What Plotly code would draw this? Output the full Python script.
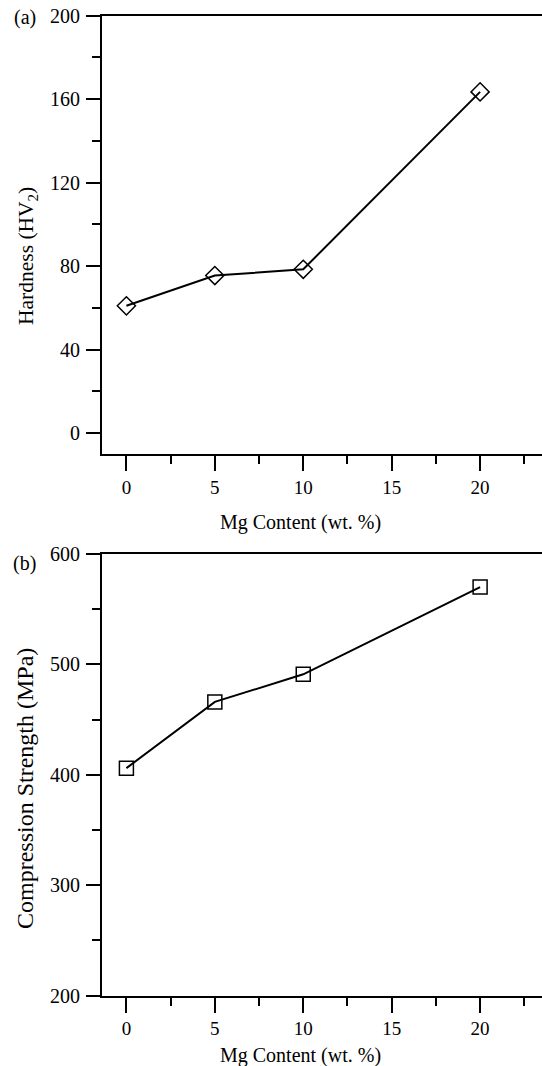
import plotly.graph_objects as go
from plotly.subplots import make_subplots

mg_content = [0, 5, 10, 20]
hardness = [61, 75.5, 78.5, 163.5]
compression = [406, 466, 491, 570]

x_ticks = [0, 5, 10, 15, 20]
hard_ticks = [0, 40, 80, 120, 160, 200]
comp_ticks = [200, 300, 400, 500, 600]

W, H = 542, 1066
FONT = "Liberation Serif"

def py(pix):
    return 1 - pix / H

def px(pix):
    return pix / W

fig = make_subplots(rows=2, cols=1)

fig.add_trace(go.Scatter(
    x=mg_content, y=hardness, mode="lines+markers",
    line=dict(color="black", width=2),
    marker=dict(symbol="diamond-open", size=14, color="black", line=dict(width=1.5, color="black")),
    showlegend=False), row=1, col=1)

fig.add_trace(go.Scatter(
    x=mg_content, y=compression, mode="lines+markers",
    line=dict(color="black", width=2),
    marker=dict(symbol="square-open", size=14, color="black", line=dict(width=1.5, color="black")),
    showlegend=False), row=2, col=1)

x_left, x_right = -1.38, 23.5
xdom = [px(102), 1.0]

common_x = dict(
    range=[x_left, x_right], tickvals=x_ticks, ticktext=[str(v) for v in x_ticks],
    showline=True, linecolor="black", linewidth=2, mirror=True,
    ticks="outside", ticklen=15, tickwidth=2, tickcolor="black",
    minor=dict(dtick=2.5, tick0=0, ticks="outside", ticklen=8, tickwidth=2, tickcolor="black"),
    showgrid=False, zeroline=False, domain=xdom, automargin=False,
    tickfont=dict(family=FONT, size=19, color="black"), ticklabelstandoff=0,
)
fig.update_xaxes(**common_x, row=1, col=1)
fig.update_xaxes(**common_x, row=2, col=1)

common_y = dict(
    showline=True, linecolor="black", linewidth=2,
    ticks="outside", ticklen=14, tickwidth=2, tickcolor="black",
    showgrid=False, zeroline=False, automargin=False,
    tickfont=dict(family=FONT, size=20, color="black"), ticklabelstandoff=2,
)
fig.update_yaxes(**common_y, range=[-10, 200], tickvals=hard_ticks,
                 ticktext=[str(v) for v in hard_ticks],
                 minor=dict(dtick=20, tick0=0, ticks="outside", ticklen=8, tickwidth=2, tickcolor="black"),
                 domain=[py(454), py(15.7)], row=1, col=1)
fig.update_yaxes(**common_y, range=[200, 600], tickvals=comp_ticks,
                 ticktext=[str(v) for v in comp_ticks],
                 minor=dict(dtick=50, tick0=0, ticks="outside", ticklen=8, tickwidth=2, tickcolor="black"),
                 domain=[py(995.5), py(554)], row=2, col=1)

ann = [
    dict(text="(a)", x=px(24.5), y=py(17), size=20, angle=0),
    dict(text="(b)", x=px(24.5), y=py(563), size=20, angle=0),
    dict(text="Hardness (HV<sub>2</sub>)", x=px(27), y=py(256), size=21.5, angle=-90),
    dict(text="Compression Strength (MPa)", x=px(25), y=py(789), size=24, angle=-90),
    dict(text="Mg Content (wt. %)", x=px(300), y=py(522), size=20, angle=0),
    dict(text="Mg Content (wt. %)", x=px(300), y=py(1055), size=20, angle=0),
]
for a in ann:
    fig.add_annotation(text=a["text"], x=a["x"], y=a["y"], xref="paper", yref="paper",
                       xanchor="center", yanchor="middle", showarrow=False,
                       textangle=a["angle"], font=dict(family=FONT, size=a["size"], color="black"))

fig.update_layout(
    width=W, height=H, margin=dict(l=0, r=0, t=0, b=0, autoexpand=False),
    paper_bgcolor="white", plot_bgcolor="white",
    font=dict(family=FONT, color="black"),
)

fig.write_html("out.html")
